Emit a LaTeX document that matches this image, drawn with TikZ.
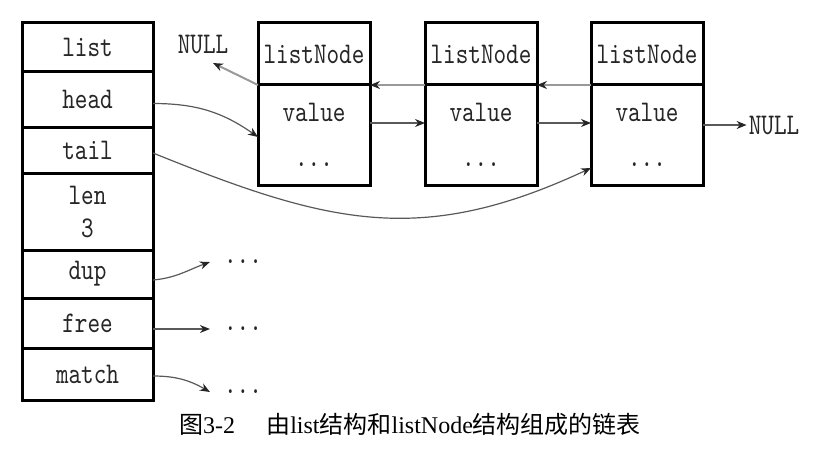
\documentclass[tikz,border=0pt]{standalone}
\usepackage{fontspec}
\setmainfont{Liberation Serif}
\newfontfamily\cjk{Noto Sans CJK SC}
\newfontfamily\monof{lmmono10-regular}[Extension=.otf, FakeStretch=0.8]
\usetikzlibrary{positioning}
\usetikzlibrary{arrows.meta}
\newcommand{\code}{\monof\fontsize{30}{33}\selectfont}

\begin{document}
\begin{tikzpicture}[
  x=1pt, y=1pt,
  cell/.style={draw, line width=3pt, minimum width=131pt, inner sep=0pt, outer sep=0pt, align=center, font=\code, text=black!85},
  lnode/.style={cell, minimum width=112pt},
  word/.style={inner sep=2pt, font=\code, text=black!85},
  ptr/.style={-{Stealth[length=10pt, width=8pt, black!85]}, line width=1.2pt, black!65},
  back/.style={ptr, line width=2pt, black!40}
]
\useasboundingbox (0,0) rectangle (814,-452);

% List
\node[cell, minimum height=49pt] (list) at (87.5,-47.5) {list};
\node[cell, minimum height=55pt, below=0pt of list] (head) {head};
\node[cell, minimum height=46pt, below=0pt of head] (tail) {tail};
\node[cell, minimum height=77pt, below=0pt of tail] (len) {len\\3};
\node[cell, minimum height=48pt, below=0pt of len] (dup) {dup};
\node[cell, minimum height=50pt, below=0pt of dup] (free) {free};
\node[cell, minimum height=52pt, below=0pt of free] (match) {match};

% ListNodes
\node[lnode, minimum height=62pt] (ln1h) at (314,-54) {listNode};
\node[lnode, minimum height=100pt, below=0pt of ln1h] (ln1v) {value\\[12pt]...};
\node[lnode, minimum height=62pt, right=55pt of ln1h] (ln2h) {listNode};
\node[lnode, minimum height=100pt, below=0pt of ln2h] (ln2v) {value\\[12pt]...};
\node[lnode, minimum height=62pt, right=54pt of ln2h] (ln3h) {listNode};
\node[lnode, minimum height=100pt, below=0pt of ln3h] (ln3v) {value\\[12pt]...};

% NULL ends and dots
\node[word] (nullL) at (203,-45) {NULL};
\coordinate (nullLtip) at (213,-63);
\node[word] (nullR) at (774,-125) {NULL};
\node[word] (dots1) at (243,-262) {...};
\node[word] (dots2) at (243,-329) {...};
\node[word] (dots3) at (243,-392) {...};

% Edges
\draw[back] (ln1h.south west) -- (nullLtip);
\draw[back] (ln2h.south west) -- (ln1h.south east);
\draw[back] (ln3h.south west) -- (ln2h.south east);
\draw[ptr] ([yshift=12pt]ln1v.east) -- ([yshift=12pt]ln2v.west);
\draw[ptr] ([yshift=12pt]ln2v.east) -- ([yshift=12pt]ln3v.west);
\draw[ptr] ([yshift=10pt]ln3v.east) -- (nullR.west);
\draw[ptr] ([yshift=-4pt]head.east) to[out=0, in=145] ([yshift=-2pt]ln1v.west);
\draw[ptr] ([yshift=-3pt]tail.east) to[out=-22, in=205, looseness=1.1] ([yshift=-33pt]ln3v.west);
\draw[ptr] ([yshift=-6pt]dup.east) to[out=5, in=200] ([xshift=-12pt]dots1.west);
\draw[ptr] (free.east |- dots2.west) -- ([xshift=-12pt]dots2.west);
\draw[ptr] ([yshift=-2pt]match.east) to[out=0, in=150] ([xshift=-12pt]dots3.west);

% Caption
\node[font=\fontsize{24}{28}\selectfont] (caption) at (410,-424) {{\cjk 图}3-2\hspace{1.3em}{\cjk 由}list{\cjk 结构和}listNode{\cjk 结构组成的链表}};
\end{tikzpicture}
\end{document}
